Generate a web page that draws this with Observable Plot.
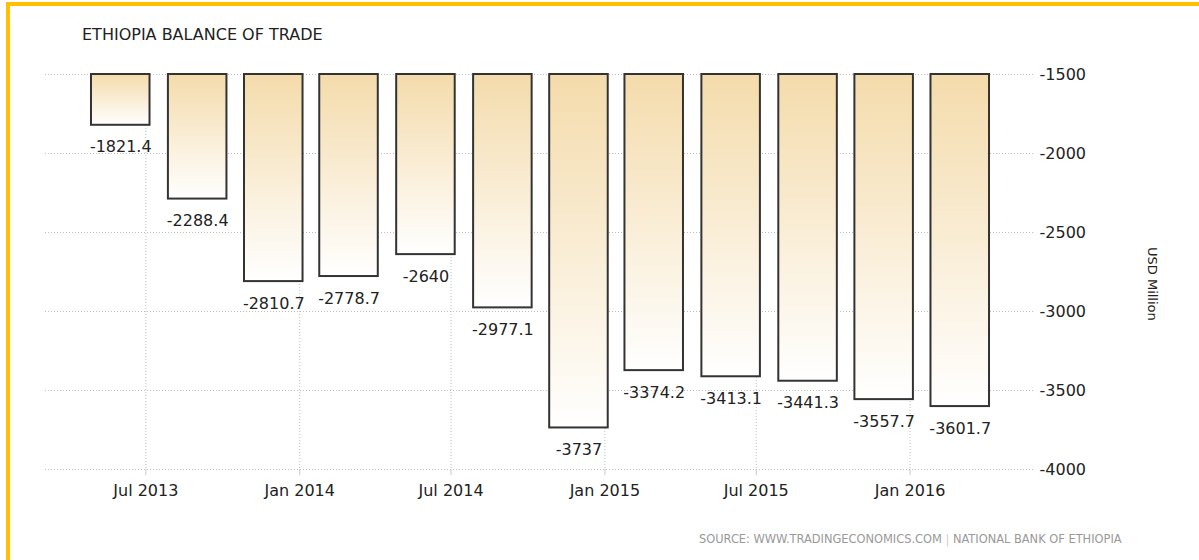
<!DOCTYPE html>
<html><head><meta charset="utf-8">
<script src="https://cdn.jsdelivr.net/npm/d3@7"></script>
<script src="https://cdn.jsdelivr.net/npm/@observablehq/plot@0.6"></script>
<style>
body{margin:0;background:#fff;}
#wrap{position:relative;width:1199px;height:560px;overflow:hidden;font-family:"DejaVu Sans",sans-serif;background:#fff;}
#border{position:absolute;left:6px;top:2px;right:-10px;bottom:-10px;border-top:4px solid #FFC000;border-left:4px solid #FFC000;}
#title{position:absolute;left:82px;top:25px;font-size:16px;color:#222;line-height:normal;white-space:nowrap;}
#chart{position:absolute;left:0;top:50px;}
#unit{position:absolute;left:1160px;top:247px;transform:rotate(90deg);transform-origin:0 0;font-size:13px;color:#222;white-space:nowrap;line-height:normal;}
#source{position:absolute;left:699px;top:531px;font-size:12.7px;font-family:"DejaVu Sans Condensed","DejaVu Sans",sans-serif;font-stretch:condensed;color:#999;white-space:nowrap;line-height:normal;}
#source .sep{color:#ccc;}
</style></head>
<body>
<div id="wrap">
  <div id="border"></div>
  <div id="title">ETHIOPIA BALANCE OF TRADE</div>
  <div id="chart"></div>
  <div id="unit">USD Million</div>
  <div id="source">SOURCE: WWW.TRADINGECONOMICS.COM <span class="sep">|</span> NATIONAL BANK OF ETHIOPIA</div>
</div>
<script>
// Quarterly balance of trade, USD million
const quarterDates = ["2013-06-01","2013-09-01","2013-12-01","2014-03-01","2014-06-01","2014-09-01",
                      "2014-12-01","2015-03-01","2015-06-01","2015-09-01","2015-12-01","2016-03-01"];
const balance = [-1821.4, -2288.4, -2810.7, -2778.7, -2640, -2977.1,
                 -3737, -3374.2, -3413.1, -3441.3, -3557.7, -3601.7];
const yTicks = [-1500, -2000, -2500, -3000, -3500, -4000];
const xTickLabels = ["Jul 2013","Jan 2014","Jul 2014","Jan 2015","Jul 2015","Jan 2016"];
const xDomain = ["2013-03-03","2016-05-30"];

const parseISO = d3.utcParse("%Y-%m-%d");
const parseTick = d3.utcParse("%b %Y");
const halfBarDays = 35;
const data = quarterDates.map((d, i) => {
  const date = parseISO(d);
  return {date, x1: d3.utcDay.offset(date, -halfBarDays), x2: d3.utcDay.offset(date, halfBarDays), value: balance[i]};
});
const xTicks = xTickLabels.map(parseTick);

const svg = Plot.plot({
  width: 1199, height: 470,
  marginLeft: 45, marginRight: 164, marginTop: 24, marginBottom: 51,
  style: {fontFamily: "DejaVu Sans, sans-serif", fontSize: "16px", background: "transparent", color: "#222"},
  x: {type: "utc", domain: xDomain.map(parseISO)},
  y: {domain: [d3.min(yTicks), d3.max(yTicks)]},
  marks: [
    Plot.gridY(yTicks, {stroke: "#bdbdbd", strokeOpacity: 1, strokeDasharray: "1,2"}),
    Plot.gridX(xTicks, {stroke: "#bdbdbd", strokeOpacity: 1, strokeDasharray: "1,2"}),
    Plot.rect(data, {x1: "x1", x2: "x2", y1: d3.max(yTicks), y2: "value",
      fill: "url(#barGrad)", stroke: "#333", strokeWidth: 2}),
    Plot.text(data, {x: "date", y: "value", text: d => String(d.value), dy: 22,
      fill: "#222", fontSize: 16, lineAnchor: "middle"}),
    Plot.axisX(xTicks, {tickSize: 6, tickPadding: 9, stroke: "#c8c8c8", fill: "#222",
      tickFormat: d3.utcFormat("%b %Y"), label: null, fontSize: 16}),
    Plot.axisY(yTicks, {anchor: "right", tickSize: 0, tickPadding: 4, fill: "#222",
      tickFormat: d => String(d), label: null, fontSize: 16})
  ]
});

const defs = d3.select(svg).insert("defs", ":first-child");
const grad = defs.append("linearGradient").attr("id", "barGrad")
  .attr("x1", 0).attr("y1", 0).attr("x2", 0).attr("y2", 1);
grad.append("stop").attr("offset", "0%").attr("stop-color", "#F4DBAB");
grad.append("stop").attr("offset", "100%").attr("stop-color", "#FFFFFF");

document.getElementById("chart").appendChild(svg);
</script>
</body></html>
